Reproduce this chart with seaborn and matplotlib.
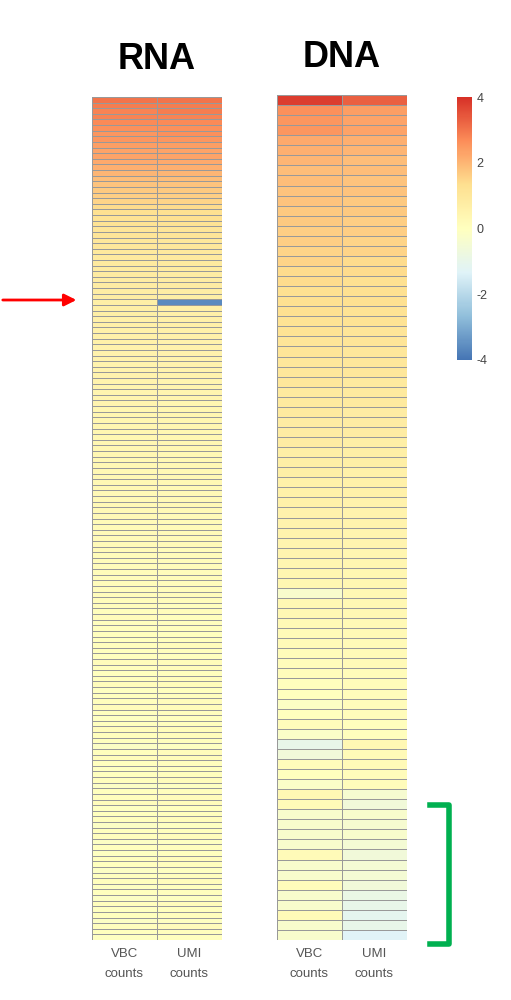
import numpy as np
import matplotlib
matplotlib.use("Agg")
import matplotlib.pyplot as plt
import seaborn as sns
from matplotlib.lines import Line2D
from matplotlib.colors import LinearSegmentedColormap

plt.rcParams["axes.unicode_minus"] = False
plt.rcParams["font.family"] = ["Liberation Sans", "DejaVu Sans"]

# log2 fold change values, one row per barcode
rna_vbc = [3.0, 2.9, 2.8, 2.8, 2.7, 2.6, 2.5, 2.5, 2.4, 2.3,
           2.3, 2.2, 2.1, 2.0, 1.9, 1.8, 1.7, 1.6, 1.5, 1.4,
           1.3, 1.2, 1.2, 1.1, 1.1, 1.0, 1.0, 0.95, 0.9, 0.9,
           0.85, 0.85, 0.8, 0.8, 0.75, 0.75, 0.7, 0.7, 0.7, 0.65,
           0.65, 0.6, 0.6, 0.6, 0.55, 0.55, 0.55, 0.5, 0.5, 0.5,
           0.5, 0.45, 0.45, 0.45, 0.45, 0.4, 0.4, 0.4, 0.4, 0.4,
           0.35, 0.35, 0.35, 0.35, 0.3, 0.3, 0.3, 0.3, 0.3, 0.3,
           0.25, 0.25, 0.25, 0.25, 0.25, 0.2, 0.2, 0.2, 0.2, 0.2,
           0.2, 0.15, 0.15, 0.15, 0.15, 0.1, 0.15, 0.1, 0.1, 0.1,
           0.1, 0.05, 0.1, 0.05, 0.05, 0.05, 0.0, 0.05, 0.0, 0.0,
           0.1, 0.05, 0.0, 0.05, 0.1, -0.05, 0.0, 0.05, 0.1, 0.0,
           -0.05, 0.0, 0.1, 0.05, 0.0, -0.1, 0.05, 0.1, 0.0, -0.05,
           0.0, 0.05, -0.1, 0.0, 0.05, 0.1, -0.05, 0.0, 0.05, -0.1,
           0.0, 0.05, -0.1, 0.0, -0.05, 0.05, 0.0, -0.1, 0.0, 0.05,
           -0.05, 0.0, -0.1, 0.05, -0.05, 0.0, -0.1, 0.05, 0.0, -0.05]
rna_umi = [3.0, 2.9, 2.9, 2.8, 2.7, 2.6, 2.6, 2.5, 2.4, 2.3,
           2.3, 2.2, 2.1, 2.0, 1.9, 1.8, 1.7, 1.6, 1.5, 1.4,
           1.3, 1.3, 1.2, 1.1, 1.1, 1.0, 1.0, 0.95, 0.9, 0.9,
           0.85, 0.8, 0.8, 0.8, 0.75, 0.7, -3.6, 0.7, 0.65, 0.65,
           0.65, 0.6, 0.6, 0.55, 0.55, 0.55, 0.5, 0.5, 0.5, 0.5,
           0.45, 0.45, 0.45, 0.45, 0.4, 0.4, 0.4, 0.4, 0.4, 0.35,
           0.35, 0.35, 0.35, 0.3, 0.3, 0.3, 0.3, 0.3, 0.3, 0.25,
           0.25, 0.25, 0.25, 0.25, 0.2, 0.2, 0.2, 0.2, 0.2, 0.2,
           0.15, 0.15, 0.15, 0.15, 0.1, 0.15, 0.1, 0.1, 0.1, 0.1,
           0.05, 0.1, 0.05, 0.05, 0.05, 0.0, 0.05, 0.1, 0.05, 0.0,
           0.15, 0.1, 0.05, 0.1, 0.15, 0.0, 0.05, 0.1, 0.15, 0.05,
           0.0, 0.05, 0.15, 0.1, 0.05, -0.05, 0.1, 0.15, 0.05, 0.0,
           0.05, 0.1, -0.05, 0.05, 0.1, 0.15, 0.0, 0.05, 0.1, -0.05,
           0.05, 0.1, -0.05, 0.05, 0.0, 0.1, 0.05, -0.05, 0.05, 0.1,
           0.0, 0.05, -0.05, 0.1, 0.0, 0.05, -0.05, 0.1, 0.05, 0.0]

dna_vbc = [3.8, 2.6, 2.5, 2.5, 2.2, 2.1, 2.0, 1.9, 1.9, 1.8,
           1.8, 1.7, 1.7, 1.6, 1.6, 1.5, 1.5, 1.4, 1.4, 1.3,
           1.3, 1.3, 1.2, 1.2, 1.1, 1.1, 1.0, 1.0, 1.0, 0.9,
           0.9, 0.9, 0.8, 0.8, 0.8, 0.7, 0.7, 0.7, 0.6, 0.6,
           0.6, 0.55, 0.5, 0.5, 0.45, 0.45, 0.4, 0.4, 0.35, -0.3,
           0.3, 0.3, 0.25, 0.2, 0.2, 0.15, 0.1, 0.1, 0.05, 0.0,
           -0.1, 0.0, 0.1, -0.2, -1.0, -0.6, 0.1, 0.0, -0.2, 0.3,
           0.2, -0.3, -0.3, -0.3, -0.3, 0.2, -0.3, -0.3, 0.1, -0.3,
           -0.3, 0.2, -0.3, -0.3]
dna_umi = [3.3, 2.4, 2.3, 2.3, 2.1, 2.0, 1.9, 1.9, 1.8, 1.8,
           1.7, 1.7, 1.6, 1.6, 1.5, 1.5, 1.4, 1.4, 1.3, 1.3,
           1.3, 1.2, 1.2, 1.1, 1.1, 1.0, 1.0, 1.0, 0.9, 0.9,
           0.9, 0.8, 0.8, 0.8, 0.7, 0.7, 0.7, 0.6, 0.6, 0.6,
           0.55, 0.5, 0.5, 0.45, 0.45, 0.4, 0.4, 0.35, 0.35, 0.3,
           0.3, 0.3, 0.25, 0.25, 0.2, 0.2, 0.2, 0.15, 0.15, 0.1,
           0.1, 0.1, 0.05, 0.05, 0.3, 0.2, 0.2, 0.1, 0.1, -0.4,
           -0.6, -0.3, -0.4, -0.3, -0.5, -0.6, -0.5, -0.5, -0.6, -0.9,
           -1.0, -1.1, -1.0, -1.3]

col_labels = ["VBC\ncounts", "UMI\ncounts"]

rna = np.column_stack([rna_vbc, rna_umi])
dna = np.column_stack([dna_vbc, dna_umi])

cmap = LinearSegmentedColormap.from_list(
    "soft_rdylbu",
    ["#4575b4", "#91bfdb", "#e0f3f8", "#ffffbf", "#fee090", "#fc8d59", "#d73027"])

fig = plt.figure(figsize=(5.11, 10), dpi=100)
ax_rna = fig.add_axes([0.180, 0.06, 0.254, 0.843])
ax_dna = fig.add_axes([0.542, 0.06, 0.254, 0.845])
cax = fig.add_axes([0.894, 0.64, 0.029, 0.263])

kw = dict(cmap=cmap, vmin=-4, vmax=4, linewidths=0.5, linecolor="#999999",
          xticklabels=col_labels, yticklabels=False)
sns.heatmap(rna, ax=ax_rna, cbar=False, **kw)
sns.heatmap(dna, ax=ax_dna, cbar_ax=cax, **kw)

for ax, title in [(ax_rna, "RNA"), (ax_dna, "DNA")]:
    ax.set_title(title, fontsize=26, fontweight="bold", pad=20)
    ax.tick_params(axis="x", length=0, labelsize=9.5, labelcolor="#555555", pad=6)
    for lab in ax.get_xticklabels():
        lab.set_linespacing(1.9)

cax.set_yticks([4, 2, 0, -2, -4])
cax.tick_params(labelsize=9, length=0, labelcolor="#444444")

# red arrow pointing at the outlier row
fig.patches.append(matplotlib.patches.FancyArrowPatch(
    (0.0, 0.70), (0.155, 0.70), transform=fig.transFigure,
    arrowstyle="-|>", mutation_scale=18, color="red", lw=2))

# green bracket next to the bottom DNA rows
green = "#00b050"
bx = [0.842, 0.878, 0.878, 0.842]
by = [0.195, 0.195, 0.056, 0.056]
fig.add_artist(Line2D(bx, by, color=green, lw=4, solid_joinstyle="round"))

fig.savefig("out.png", dpi=100)
